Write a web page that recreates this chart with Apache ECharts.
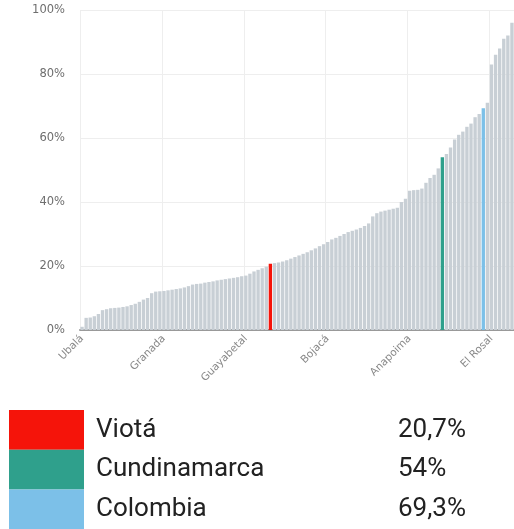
<!DOCTYPE html>
<html>
<head>
<meta charset="utf-8">
<script src="https://cdn.jsdelivr.net/npm/echarts@6/dist/echarts.min.js"></script>
<style>
html,body{margin:0;padding:0;background:#fff;}
#m1{width:514px;height:529px;}
</style>
</head>
<body>
<div id="m1"></div>
<script>
// share per municipality, sorted (visible part of the chart)
var values=[
 1.0,3.8,3.9,4.3,5.0,6.2,6.5,6.8,6.9,7.0,
 7.2,7.4,7.8,8.2,8.8,9.5,10.0,11.5,12.0,12.1,
 12.2,12.4,12.6,12.8,13.0,13.3,13.7,14.2,14.4,14.5,
 14.8,15.0,15.2,15.5,15.7,15.9,16.1,16.3,16.5,16.8,
 17.0,17.6,18.3,18.8,19.3,19.8,20.7,20.9,21.1,21.4,
 21.8,22.3,22.8,23.3,23.8,24.3,24.9,25.5,26.2,26.8,
 27.5,28.3,28.8,29.4,30.0,30.6,31.0,31.4,31.9,32.5,
 33.3,35.5,36.5,37.0,37.3,37.6,37.9,38.2,40.0,41.0,
 43.5,43.7,43.8,44.2,46.0,47.5,48.5,50.5,54.0,55.0,
 57.0,59.5,61.0,62.0,63.5,64.5,66.5,67.5,69.3,71.0,
 83.0,86.0,88.0,91.0,92.0,96.0
];
var tickNames=['Ubalá','Granada','Guayabetal','Bojacá','Anapoima','El Rosal'];
var tickStep=20;
var highlightNames=['Viotá','Cundinamarca','Colombia'];
var highlightIndex=[46,88,98];
var highlightColors=['#f5140a','#2fa08c','#7cc0e8'];
var yTicks=[0,20,40,60,80,100];

var categories=[];
for(var i=0;i<values.length;i++){
  var name='';
  if(i%tickStep==0) name=tickNames[i/tickStep];
  var h=highlightIndex.indexOf(i);
  if(h>=0) name=highlightNames[h];
  categories.push(name);
}

var barData=values.map(function(v,i){
  var h=highlightIndex.indexOf(i);
  if(h>=0) return {value:v,itemStyle:{color:highlightColors[h]}};
  return v;
});

// legend table under the chart
var legendItems=[];
for(var k=0;k<highlightNames.length;k++){
  var rowTop=410+k*39.7;
  legendItems.push({type:'rect',shape:{x:9,y:rowTop,width:75,height:39.7},style:{fill:highlightColors[k]}});
  legendItems.push({type:'text',x:96,y:rowTop+20,style:{text:highlightNames[k],fill:'#222',font:'26px Roboto',verticalAlign:'middle'}});
  var val=String(values[highlightIndex[k]]).replace('.',',')+'%';
  legendItems.push({type:'text',x:398,y:rowTop+20,style:{text:val,fill:'#222',font:'26px Roboto',verticalAlign:'middle'}});
}

var myChart=echarts.init(document.getElementById('m1'));
var option={
  animation:false,
  grid:{left:80,right:0,top:10,bottom:199},
  xAxis:{
    type:'category',
    data:categories,
    boundaryGap:true,
    axisLine:{lineStyle:{color:'#999',width:2}},
    axisTick:{interval:tickStep-1,length:4,lineStyle:{color:'#bbb'}},
    axisLabel:{interval:tickStep-1,rotate:45,margin:7,fontSize:10.5,fontFamily:'DejaVu Sans',color:'#888'},
    splitLine:{show:true,interval:tickStep-1,lineStyle:{color:'#eeeeee'}}
  },
  yAxis:{
    type:'value',
    min:yTicks[0],
    max:yTicks[yTicks.length-1],
    interval:yTicks[1]-yTicks[0],
    axisLine:{show:false},
    axisTick:{show:false},
    axisLabel:{formatter:'{value}%',fontSize:11.5,fontFamily:'DejaVu Sans',color:'#6e6e6e',margin:15},
    splitLine:{lineStyle:{color:'#eeeeee'}}
  },
  series:[
    {
      type:'bar',
      data:barData,
      barCategoryGap:'18%',
      itemStyle:{color:'#c8cfd5'}
    }
  ],
  graphic:legendItems
};
myChart.setOption(option);
</script>
</body>
</html>
